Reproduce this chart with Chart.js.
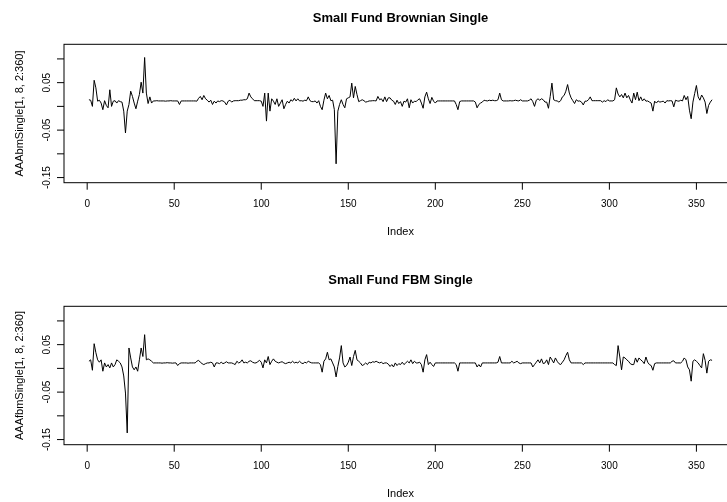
<!DOCTYPE html>
<html>
<head>
<meta charset="utf-8">
<script src="https://cdn.jsdelivr.net/npm/chart.js@4.4.1/dist/chart.umd.min.js"></script>
<style>
  html, body { margin: 0; padding: 0; background: #fff; overflow: hidden; width: 727px; height: 502px; }
  .panel { position: absolute; left: 0; width: 760px; height: 262px; }
</style>
</head>
<body>
<div class="panel" style="top:0px"><canvas id="brownianChart" width="760" height="262"></canvas></div>
<div class="panel" style="top:262px"><canvas id="fbmChart" width="760" height="262"></canvas></div>
<script>
// Data (index 1..359)
const brownianSingle = [
  0.014, 0.013, 0.000, 0.055, 0.039, 0.011, 0.013, 0.007, -0.007, 0.012,
  0.002, -0.003, 0.035, 0.000, 0.011, 0.012, 0.007, 0.012, 0.010, 0.009,
  -0.010, -0.056, -0.010, 0.004, 0.032, 0.021, 0.007, -0.005, 0.011, 0.025,
  0.051, 0.028, 0.103, 0.028, 0.006, 0.020, 0.007, 0.0115, 0.0115, 0.012,
  0.0115, 0.0115, 0.0115, 0.0115, 0.011, 0.0115, 0.0115, 0.012, 0.0115, 0.0115,
  0.0115, 0.0115, 0.004, 0.0115, 0.0115, 0.0115, 0.0115, 0.0115, 0.0115, 0.0115,
  0.0115, 0.0115, 0.011, 0.017, 0.021, 0.014, 0.023, 0.016, 0.013, 0.009,
  0.013, 0.004, 0.011, 0.007, 0.0115, 0.010, 0.012, 0.0115, 0.009, 0.003,
  0.011, 0.013, 0.009, 0.0115, 0.012, 0.012, 0.012, 0.013, 0.013, 0.014,
  0.014, 0.016, 0.028, 0.020, 0.016, 0.012, 0.012, 0.012, 0.012, 0.011,
  0.000, 0.028, -0.031, 0.028, -0.010, 0.016, 0.011, 0.004, 0.016, 0.000,
  0.007, 0.014, -0.005, 0.004, 0.011, 0.007, 0.014, 0.011, 0.017, 0.0115,
  0.016, 0.0115, 0.012, 0.011, 0.013, 0.012, 0.020, 0.012, 0.010, 0.010,
  0.0115, 0.007, 0.012, 0.000, -0.007, 0.013, 0.028, 0.016, 0.023, 0.012,
  0.013, -0.007, -0.121, -0.010, 0.004, 0.014, 0.004, -0.003, 0.016, 0.018,
  0.020, 0.049, 0.018, 0.042, 0.025, 0.010, 0.012, 0.014, 0.012, 0.009,
  0.010, 0.0115, 0.0115, 0.012, 0.012, 0.0115, 0.021, 0.014, 0.016, 0.010,
  0.020, 0.010, 0.018, 0.018, 0.013, 0.011, 0.004, 0.013, 0.006, 0.010,
  0.000, 0.011, 0.009, 0.016, -0.003, 0.014, 0.007, 0.011, 0.010, 0.014,
  0.016, 0.007, -0.004, 0.020, 0.030, 0.016, 0.006, 0.019, 0.011, 0.007,
  0.0115, 0.0115, 0.0115, 0.0115, 0.0115, 0.0115, 0.0115, 0.0115, 0.0115, 0.0115,
  0.0115, 0.004, -0.007, 0.010, 0.0115, 0.0115, 0.0115, 0.0115, 0.0115, 0.0115,
  0.0115, 0.0115, 0.009, -0.003, 0.004, 0.007, 0.009, 0.013, 0.012, 0.0115,
  0.013, 0.012, 0.013, 0.012, 0.012, 0.014, 0.028, 0.014, 0.0115, 0.0115,
  0.0115, 0.0115, 0.012, 0.0115, 0.012, 0.013, 0.012, 0.0115, 0.014, 0.0115,
  0.0115, 0.0115, 0.0115, 0.013, 0.016, 0.010, 0.000, 0.013, 0.016, 0.013,
  0.016, 0.014, 0.009, 0.009, -0.004, 0.021, 0.049, 0.014, 0.012, 0.0115,
  0.009, 0.012, 0.020, 0.023, 0.032, 0.046, 0.028, 0.018, 0.012, 0.006,
  0.014, 0.011, 0.0115, 0.009, 0.003, 0.011, 0.011, 0.014, 0.020, 0.012,
  0.012, 0.012, 0.012, 0.012, 0.012, 0.009, 0.012, 0.010, 0.014, 0.0115,
  0.0115, 0.0115, 0.014, 0.039, 0.026, 0.020, 0.025, 0.018, 0.028, 0.018,
  0.023, 0.014, 0.007, 0.028, 0.014, 0.030, 0.012, 0.020, 0.0115, 0.016,
  0.011, 0.0115, 0.009, 0.007, -0.010, 0.011, 0.007, 0.0115, 0.009, 0.010,
  0.011, 0.007, 0.012, 0.0115, 0.012, 0.0115, -0.001, 0.013, 0.0115, 0.011,
  0.013, 0.0115, 0.023, 0.014, 0.021, -0.008, -0.026, 0.009, 0.027, 0.044,
  0.020, 0.013, 0.024, 0.018, 0.009, -0.015, 0.002, 0.009, 0.014
];

const fbmSingle = [
  0.015, 0.018, -0.004, 0.052, 0.033, 0.018, 0.013, 0.018, -0.006, 0.0115,
  0.003, 0.008, 0.001, 0.0115, 0.003, 0.008, 0.018, 0.015, 0.0115, 0.003,
  -0.016, -0.052, -0.136, 0.043, 0.022, 0.003, -0.003, 0.003, -0.006, 0.018,
  0.043, 0.025, 0.071, 0.018, 0.020, 0.018, 0.015, 0.0115, 0.0115, 0.0115,
  0.0115, 0.0115, 0.011, 0.0115, 0.0115, 0.012, 0.0115, 0.0115, 0.011, 0.0115,
  0.0115, 0.006, 0.010, 0.0115, 0.0115, 0.0115, 0.0115, 0.011, 0.0115, 0.0115,
  0.0115, 0.0115, 0.015, 0.017, 0.013, 0.010, 0.008, 0.010, 0.0115, 0.0115,
  0.013, 0.0115, 0.003, 0.0115, 0.0115, 0.010, 0.013, 0.010, 0.0115, 0.014,
  0.0115, 0.0115, 0.0115, 0.010, 0.008, 0.015, 0.0115, 0.013, 0.018, 0.0115,
  0.013, 0.0115, 0.015, 0.016, 0.013, 0.0115, 0.0115, 0.014, 0.017, 0.013,
  0.001, 0.018, 0.0115, 0.025, 0.008, 0.015, 0.020, 0.015, 0.013, 0.0115,
  0.013, 0.014, 0.0115, 0.010, 0.0115, 0.013, 0.0115, 0.015, 0.0115, 0.013,
  0.0115, 0.015, 0.0115, 0.010, 0.013, 0.0115, 0.015, 0.013, 0.0115, 0.0115,
  0.0115, 0.0115, 0.0115, 0.008, -0.008, 0.015, 0.020, 0.034, 0.018, 0.020,
  0.0115, 0.003, -0.018, 0.004, 0.022, 0.048, 0.0115, 0.003, 0.006, 0.013,
  0.024, 0.006, 0.025, 0.038, 0.018, 0.015, 0.0115, 0.006, 0.008, 0.0115,
  0.008, 0.013, 0.0115, 0.014, 0.013, 0.015, 0.013, 0.0115, 0.013, 0.010,
  0.0115, 0.0115, 0.009, 0.004, 0.008, 0.003, 0.0115, 0.006, 0.010, 0.008,
  0.013, 0.008, 0.0115, 0.015, 0.0115, 0.018, 0.010, 0.015, 0.0115, 0.0115,
  0.013, 0.008, -0.008, 0.018, 0.029, 0.008, 0.013, 0.008, 0.004, 0.0115,
  0.0115, 0.0115, 0.0115, 0.0115, 0.0115, 0.0115, 0.0115, 0.0115, 0.0115, 0.0115,
  0.0115, 0.008, -0.006, 0.0115, 0.0115, 0.0115, 0.0115, 0.0115, 0.0115, 0.0115,
  0.0115, 0.0115, 0.0115, 0.003, 0.008, 0.003, 0.0115, 0.0115, 0.0115, 0.0115,
  0.0115, 0.0115, 0.0115, 0.0115, 0.0115, 0.013, 0.025, 0.0115, 0.0115, 0.0115,
  0.0115, 0.0115, 0.0115, 0.015, 0.0115, 0.013, 0.015, 0.0115, 0.010, 0.0115,
  0.0115, 0.0115, 0.0115, 0.0115, 0.0115, 0.003, 0.008, 0.013, 0.018, 0.0115,
  0.020, 0.010, 0.0115, 0.018, 0.008, 0.024, 0.018, 0.0115, 0.022, 0.015,
  0.010, 0.008, 0.013, 0.018, 0.027, 0.034, 0.018, 0.0115, 0.0115, 0.0115,
  0.0115, 0.0115, 0.0115, 0.0115, 0.008, 0.0115, 0.0115, 0.0115, 0.0115, 0.0115,
  0.0115, 0.0115, 0.0115, 0.0115, 0.0115, 0.0115, 0.0115, 0.0115, 0.0115, 0.0115,
  0.0115, 0.0115, 0.008, 0.006, 0.048, 0.024, -0.003, 0.024, 0.022, 0.018,
  0.015, 0.010, 0.008, 0.008, 0.022, 0.013, 0.022, 0.018, 0.015, 0.010,
  0.024, 0.013, 0.008, 0.006, -0.004, 0.010, 0.0115, 0.0115, 0.0115, 0.0115,
  0.0115, 0.0115, 0.0115, 0.0115, 0.0115, 0.015, 0.016, 0.0115, 0.0115, 0.0115,
  0.0115, 0.015, 0.022, 0.018, 0.003, -0.003, -0.027, 0.015, 0.018, 0.015,
  0.0115, 0.006, 0.001, 0.031, 0.017, -0.010, 0.015, 0.018, 0.017
];

// Index 1..n like R's plot(x)
const indexValues = brownianSingle.map((v, k) => k + 1);

const xTicks = [0, 50, 100, 150, 200, 250, 300, 350];
const yTicks = [0.10, 0.05, 0.00, -0.05, -0.10, -0.15];
const yTickLabels = ['', '0.05', '', '-0.05', '', '-0.15'];

const xMin = -13.32, xMax = 373.32;
const yMin = -0.1608, yMax = 0.1308;

const FONT = '"Liberation Sans", Arial, Helvetica, sans-serif';

// R-style box, ticks and labels
const rAxes = {
  id: 'rAxes',
  afterDraw(chart, args, opts) {
    const ctx = chart.ctx;
    const a = chart.chartArea;
    const xs = chart.scales.x, ys = chart.scales.y;
    ctx.save();
    ctx.strokeStyle = '#000';
    ctx.fillStyle = '#000';
    ctx.lineWidth = 1;

    ctx.strokeRect(a.left, a.top, a.right - a.left, a.bottom - a.top);

    ctx.beginPath();
    xTicks.forEach(v => {
      const px = xs.getPixelForValue(v);
      ctx.moveTo(px, a.bottom);
      ctx.lineTo(px, a.bottom + 7);
    });
    yTicks.forEach(v => {
      const py = ys.getPixelForValue(v);
      ctx.moveTo(a.left, py);
      ctx.lineTo(a.left - 7, py);
    });
    ctx.stroke();

    ctx.font = '10px ' + FONT;
    ctx.textAlign = 'center';
    ctx.textBaseline = 'alphabetic';
    xTicks.forEach(v => {
      ctx.fillText(String(v), xs.getPixelForValue(v), a.bottom + 24.5);
    });
    yTicks.forEach((v, k) => {
      if (!yTickLabels[k]) return;
      ctx.save();
      ctx.translate(50, ys.getPixelForValue(v));
      ctx.rotate(-Math.PI / 2);
      ctx.fillText(yTickLabels[k], 0, 0);
      ctx.restore();
    });

    const cx = (a.left + a.right) / 2;
    ctx.font = 'bold 13px ' + FONT;
    ctx.fillText(opts.title, cx, 22);

    ctx.font = '11px ' + FONT;
    ctx.fillText('Index', cx, 235);

    ctx.save();
    ctx.translate(22.5, (a.top + a.bottom) / 2);
    ctx.rotate(-Math.PI / 2);
    ctx.fillText(opts.yTitle, 0, 0);
    ctx.restore();

    ctx.restore();
  }
};

function buildChart(canvasId, values, title, yTitle) {
  const points = indexValues.map((x, k) => ({ x: x, y: values[k] }));
  return new Chart(document.getElementById(canvasId), {
    type: 'line',
    data: {
      datasets: [{
        data: points,
        borderColor: '#000',
        borderWidth: 1,
        pointRadius: 0,
        tension: 0,
        fill: false
      }]
    },
    options: {
      responsive: false,
      animation: false,
      events: [],
      layout: { padding: { top: 44.3, right: 23, left: 0, bottom: 0 } },
      plugins: {
        legend: { display: false },
        tooltip: { enabled: false },
        rAxes: { title: title, yTitle: yTitle }
      },
      scales: {
        x: {
          type: 'linear', min: xMin, max: xMax,
          ticks: { display: false }, grid: { display: false }, border: { display: false },
          afterFit: s => { s.height = 79.3; }
        },
        y: {
          type: 'linear', min: yMin, max: yMax,
          ticks: { display: false }, grid: { display: false }, border: { display: false },
          afterFit: s => { s.width = 64; }
        }
      }
    },
    plugins: [rAxes]
  });
}

buildChart('brownianChart', brownianSingle, 'Small Fund Brownian Single', 'AAAbmSingle[1, 8, 2:360]');
buildChart('fbmChart', fbmSingle, 'Small Fund FBM Single', 'AAAfbmSingle[1, 8, 2:360]');
</script>
</body>
</html>
